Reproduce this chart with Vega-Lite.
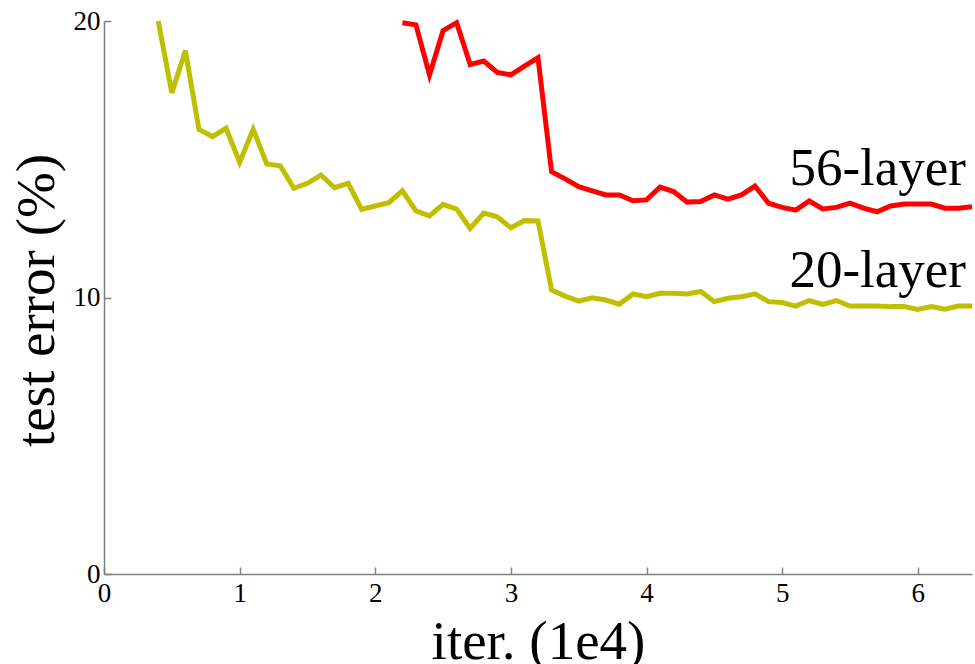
{
  "$schema": "https://vega.github.io/schema/vega-lite/v6.json",
  "width": 868,
  "height": 553,
  "autosize": "none",
  "padding": {"left": 104, "top": 21, "right": 3, "bottom": 90},
  "background": "white",
  "config": {
    "view": {"stroke": null},
    "axis": {
      "grid": false,
      "labelFlush": false,
      "domainColor": "#808080",
      "domainWidth": 1.5,
      "tickColor": "#808080",
      "tickWidth": 1.5,
      "tickSize": -7,
      "labelFont": "Liberation Serif",
      "labelFontSize": 27,
      "labelColor": "black",
      "titleFont": "Liberation Serif",
      "titleFontSize": 55,
      "titleFontWeight": "normal",
      "titleColor": "black"
    }
  },
  "datasets": {
    "curves": [
      {"series": "20-layer", "iter": 0.4, "err": 20.0},
      {"series": "20-layer", "iter": 0.5, "err": 17.4},
      {"series": "20-layer", "iter": 0.6, "err": 18.93},
      {"series": "20-layer", "iter": 0.7, "err": 16.08},
      {"series": "20-layer", "iter": 0.8, "err": 15.82},
      {"series": "20-layer", "iter": 0.9, "err": 16.12},
      {"series": "20-layer", "iter": 1.0, "err": 14.89},
      {"series": "20-layer", "iter": 1.1, "err": 16.08},
      {"series": "20-layer", "iter": 1.2, "err": 14.83},
      {"series": "20-layer", "iter": 1.3, "err": 14.76},
      {"series": "20-layer", "iter": 1.4, "err": 13.95},
      {"series": "20-layer", "iter": 1.5, "err": 14.13},
      {"series": "20-layer", "iter": 1.6, "err": 14.43},
      {"series": "20-layer", "iter": 1.7, "err": 13.97},
      {"series": "20-layer", "iter": 1.8, "err": 14.13},
      {"series": "20-layer", "iter": 1.9, "err": 13.19},
      {"series": "20-layer", "iter": 2.0, "err": 13.31},
      {"series": "20-layer", "iter": 2.1, "err": 13.43},
      {"series": "20-layer", "iter": 2.2, "err": 13.86},
      {"series": "20-layer", "iter": 2.3, "err": 13.13},
      {"series": "20-layer", "iter": 2.4, "err": 12.95},
      {"series": "20-layer", "iter": 2.5, "err": 13.37},
      {"series": "20-layer", "iter": 2.6, "err": 13.2},
      {"series": "20-layer", "iter": 2.7, "err": 12.5},
      {"series": "20-layer", "iter": 2.8, "err": 13.05},
      {"series": "20-layer", "iter": 2.9, "err": 12.92},
      {"series": "20-layer", "iter": 3.0, "err": 12.52},
      {"series": "20-layer", "iter": 3.1, "err": 12.78},
      {"series": "20-layer", "iter": 3.2, "err": 12.77},
      {"series": "20-layer", "iter": 3.3, "err": 10.27},
      {"series": "20-layer", "iter": 3.4, "err": 10.05},
      {"series": "20-layer", "iter": 3.5, "err": 9.87},
      {"series": "20-layer", "iter": 3.6, "err": 9.99},
      {"series": "20-layer", "iter": 3.7, "err": 9.91},
      {"series": "20-layer", "iter": 3.8, "err": 9.76},
      {"series": "20-layer", "iter": 3.9, "err": 10.13},
      {"series": "20-layer", "iter": 4.0, "err": 10.03},
      {"series": "20-layer", "iter": 4.1, "err": 10.15},
      {"series": "20-layer", "iter": 4.2, "err": 10.15},
      {"series": "20-layer", "iter": 4.3, "err": 10.13},
      {"series": "20-layer", "iter": 4.4, "err": 10.22},
      {"series": "20-layer", "iter": 4.5, "err": 9.85},
      {"series": "20-layer", "iter": 4.6, "err": 9.97},
      {"series": "20-layer", "iter": 4.7, "err": 10.03},
      {"series": "20-layer", "iter": 4.8, "err": 10.13},
      {"series": "20-layer", "iter": 4.9, "err": 9.85},
      {"series": "20-layer", "iter": 5.0, "err": 9.82},
      {"series": "20-layer", "iter": 5.1, "err": 9.69},
      {"series": "20-layer", "iter": 5.2, "err": 9.89},
      {"series": "20-layer", "iter": 5.3, "err": 9.75},
      {"series": "20-layer", "iter": 5.4, "err": 9.89},
      {"series": "20-layer", "iter": 5.5, "err": 9.69},
      {"series": "20-layer", "iter": 5.6, "err": 9.69},
      {"series": "20-layer", "iter": 5.7, "err": 9.69},
      {"series": "20-layer", "iter": 5.8, "err": 9.67},
      {"series": "20-layer", "iter": 5.9, "err": 9.67},
      {"series": "20-layer", "iter": 6.0, "err": 9.57},
      {"series": "20-layer", "iter": 6.1, "err": 9.67},
      {"series": "20-layer", "iter": 6.2, "err": 9.58},
      {"series": "20-layer", "iter": 6.3, "err": 9.69},
      {"series": "20-layer", "iter": 6.4, "err": 9.69},
      {"series": "56-layer", "iter": 2.2, "err": 19.94},
      {"series": "56-layer", "iter": 2.3, "err": 19.86},
      {"series": "56-layer", "iter": 2.4, "err": 18.05},
      {"series": "56-layer", "iter": 2.5, "err": 19.65},
      {"series": "56-layer", "iter": 2.6, "err": 19.94},
      {"series": "56-layer", "iter": 2.7, "err": 18.43},
      {"series": "56-layer", "iter": 2.8, "err": 18.55},
      {"series": "56-layer", "iter": 2.9, "err": 18.14},
      {"series": "56-layer", "iter": 3.0, "err": 18.05},
      {"series": "56-layer", "iter": 3.1, "err": 18.37},
      {"series": "56-layer", "iter": 3.2, "err": 18.67},
      {"series": "56-layer", "iter": 3.3, "err": 14.55},
      {"series": "56-layer", "iter": 3.4, "err": 14.29},
      {"series": "56-layer", "iter": 3.5, "err": 14.01},
      {"series": "56-layer", "iter": 3.6, "err": 13.86},
      {"series": "56-layer", "iter": 3.7, "err": 13.71},
      {"series": "56-layer", "iter": 3.8, "err": 13.71},
      {"series": "56-layer", "iter": 3.9, "err": 13.5},
      {"series": "56-layer", "iter": 4.0, "err": 13.53},
      {"series": "56-layer", "iter": 4.1, "err": 13.99},
      {"series": "56-layer", "iter": 4.2, "err": 13.83},
      {"series": "56-layer", "iter": 4.3, "err": 13.45},
      {"series": "56-layer", "iter": 4.4, "err": 13.47},
      {"series": "56-layer", "iter": 4.5, "err": 13.71},
      {"series": "56-layer", "iter": 4.6, "err": 13.56},
      {"series": "56-layer", "iter": 4.7, "err": 13.71},
      {"series": "56-layer", "iter": 4.8, "err": 14.03},
      {"series": "56-layer", "iter": 4.9, "err": 13.41},
      {"series": "56-layer", "iter": 5.0, "err": 13.26},
      {"series": "56-layer", "iter": 5.1, "err": 13.16},
      {"series": "56-layer", "iter": 5.2, "err": 13.49},
      {"series": "56-layer", "iter": 5.3, "err": 13.2},
      {"series": "56-layer", "iter": 5.4, "err": 13.26},
      {"series": "56-layer", "iter": 5.5, "err": 13.41},
      {"series": "56-layer", "iter": 5.6, "err": 13.23},
      {"series": "56-layer", "iter": 5.7, "err": 13.1},
      {"series": "56-layer", "iter": 5.8, "err": 13.31},
      {"series": "56-layer", "iter": 5.9, "err": 13.38},
      {"series": "56-layer", "iter": 6.0, "err": 13.38},
      {"series": "56-layer", "iter": 6.1, "err": 13.38},
      {"series": "56-layer", "iter": 6.2, "err": 13.23},
      {"series": "56-layer", "iter": 6.3, "err": 13.23},
      {"series": "56-layer", "iter": 6.4, "err": 13.28}
    ],
    "labels": [
      {"series": "56-layer", "iter": 6.4, "err": 14.07},
      {"series": "20-layer", "iter": 6.4, "err": 10.38}
    ]
  },
  "layer": [
    {
      "data": {"name": "curves"},
      "mark": {"type": "line", "strokeWidth": 5, "strokeJoin": "miter", "clip": false},
      "encoding": {
        "x": {
          "field": "iter",
          "type": "quantitative",
          "scale": {"domain": [0, 6.4], "nice": false, "zero": false},
          "axis": {
            "values": [0, 1, 2, 3, 4, 5, 6],
            "format": "d",
            "title": "iter. (1e4)",
            "labelPadding": 13,
            "labelFlush": false,
            "titleX": 434,
            "titleY": 84,
            "titleAnchor": "middle",
            "titleAlign": "center",
            "titleBaseline": "alphabetic"
          }
        },
        "y": {
          "field": "err",
          "type": "quantitative",
          "scale": {"domain": [0, 20], "nice": false},
          "axis": {
            "values": [0, 10, 20],
            "format": "d",
            "title": "test error (%)",
            "labelPadding": 11,
            "labelFlush": false,
            "titleAngle": 270,
            "titleX": -51,
            "titleY": 279,
            "titleAlign": "center",
            "titleBaseline": "alphabetic"
          }
        },
        "color": {
          "field": "series",
          "type": "nominal",
          "scale": {"domain": ["20-layer", "56-layer"], "range": ["#BFBF00", "#FF0000"]},
          "legend": null
        },
        "detail": {"field": "series"}
      }
    },
    {
      "data": {"name": "labels"},
      "mark": {
        "type": "text",
        "align": "right",
        "baseline": "alphabetic",
        "dx": -6,
        "font": "Liberation Serif",
        "fontSize": 53,
        "color": "black"
      },
      "encoding": {
        "x": {"field": "iter", "type": "quantitative"},
        "y": {"field": "err", "type": "quantitative"},
        "text": {"field": "series"}
      }
    }
  ]
}
